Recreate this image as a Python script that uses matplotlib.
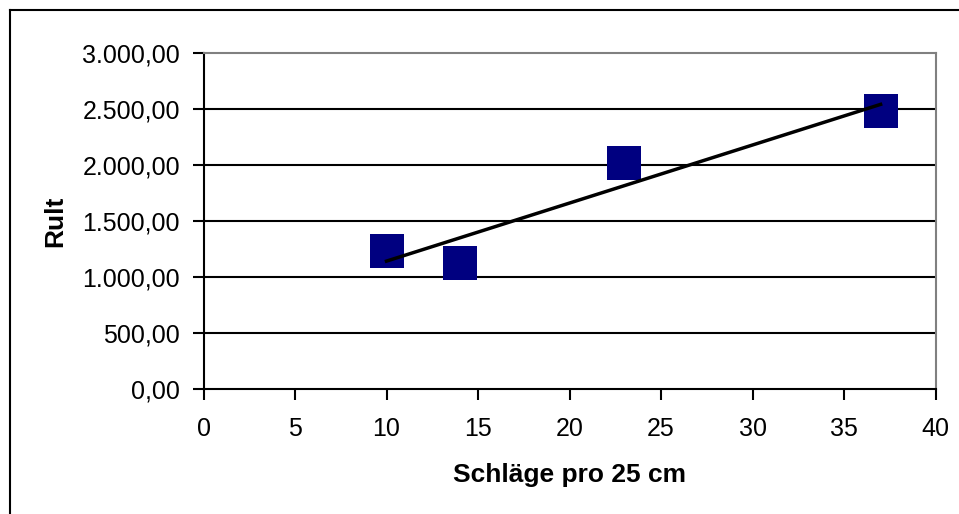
import matplotlib
matplotlib.use('Agg')
import matplotlib.pyplot as plt
from matplotlib.ticker import FuncFormatter
from matplotlib.lines import Line2D
import numpy as np

# Messwerte: Schlagzahl pro 25 cm gegen Rult
schlaege = [10, 14, 23, 37]
rult = [1232, 1122, 2015, 2479]
x_ticks = [0, 5, 10, 15, 20, 25, 30, 35, 40]
y_ticks = [0, 500, 1000, 1500, 2000, 2500, 3000]

plt.rcParams['font.family'] = ['Liberation Sans', 'DejaVu Sans']

def de_format(v, pos):
    s = '{:,.2f}'.format(v)
    return s.replace(',', 'X').replace('.', ',').replace('X', '.')

fig = plt.figure(figsize=(9.59, 5.14), dpi=100)
ax = fig.add_axes([203.5/959, 1-389/514, (935.5-203.5)/959, (389-53)/514])

# horizontale Gitterlinien
for yv in y_ticks[1:-1]:
    ax.axhline(yv, color='black', linewidth=1.5, zorder=1)

# Punkte
ax.plot(schlaege, rult, linestyle='none', marker='s', markersize=25,
        color='#000080', markeredgewidth=0, zorder=3)

# lineare Trendlinie
k, d = np.polyfit(schlaege, rult, 1)
xt = np.array([min(schlaege), max(schlaege)])
ax.plot(xt, k*xt+d, color='black', linewidth=2.5, zorder=4)

ax.set_xlim(0, 40)
ax.set_ylim(0, 3000)
ax.set_xticks(x_ticks)
ax.set_yticks(y_ticks)
ax.yaxis.set_major_formatter(FuncFormatter(de_format))
ax.tick_params(direction='out', length=8, width=1.5, labelsize=18, colors='black')
ax.tick_params(axis='y', pad=9)
ax.tick_params(axis='x', pad=12)

for side in ['left', 'bottom']:
    ax.spines[side].set_color('black')
    ax.spines[side].set_linewidth(1.5)
for side in ['top', 'right']:
    ax.spines[side].set_color('#808080')
    ax.spines[side].set_linewidth(1.5)

ax.set_xlabel('Schläge pro 25 cm', fontsize=19, fontweight='bold', labelpad=16)
ax.set_ylabel('Rult', fontsize=19, fontweight='bold', labelpad=11)

# Rahmen um das Diagramm
fig.add_artist(Line2D([10/959, 10/959], [0, 1-10/514], color='black', linewidth=1.5))
fig.add_artist(Line2D([10/959, 1], [1-10/514, 1-10/514], color='black', linewidth=1.5))

fig.savefig('out.png', dpi=100)
